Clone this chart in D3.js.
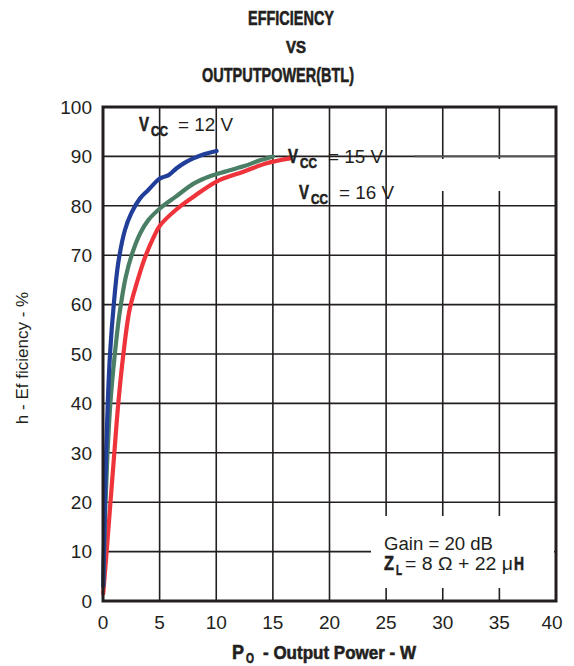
<!DOCTYPE html>
<html><head><meta charset="utf-8">
<script src="https://cdn.jsdelivr.net/npm/d3@7"></script>
<style>body{margin:0;background:#fff}svg{display:block}</style>
</head><body>
<svg id="c" width="574" height="666"></svg>
<script>
const xTicks = [0, 5, 10, 15, 20, 25, 30, 35, 40];
const yTicks = [0, 10, 20, 30, 40, 50, 60, 70, 80, 90, 100];
const vcc12 = [[0.02,3],[0.08,10],[0.17,20],[0.28,30],[0.42,40],[0.62,50],[0.95,60],[1.35,68.5],[1.94,75.1],[2.5,78.5],[3.27,81.5],[4.0,83.2],[4.94,85.4],[5.3,85.8],[5.8,86.2],[6.5,87.6],[7.2,88.7],[7.97,89.6],[8.85,90.4],[10.03,91.1]];
const vcc15 = [[0.02,3],[0.1,10],[0.22,20],[0.4,30],[0.65,40],[1.0,49],[1.45,58],[2.0,65.5],[2.6,70.5],[3.3,74.5],[4.0,77.1],[5.1,79.6],[6.4,81.8],[8.0,84.5],[9.44,86],[10.9,87.0],[12.4,88.0],[13.86,89.2],[15.0,90.0]];
const vcc16 = [[0.02,1.5],[0.32,10],[0.66,20],[1.0,30],[1.35,40],[1.8,50],[2.35,59],[3.0,64.5],[3.7,69.5],[4.44,73.5],[5.03,76],[6.5,79.3],[7.97,81.8],[10.03,84.9],[12.4,86.9],[14.45,88.6],[16.5,89.6]];
const seriesColors = ["#213f99", "#4b7f65", "#ef333a"];

const svg = d3.select("#c");
const x = d3.scaleLinear().domain([0, 40]).range([103, 556]);
const y = d3.scaleLinear().domain([0, 100]).range([601, 107]);
const cond = "'Liberation Sans Narrow','Liberation Sans',Arial,sans-serif";
const reg = "'Liberation Sans',Arial,sans-serif";
const ink = "#231f20";

// grid
const g = svg.append("g");
g.selectAll("line.v").data(xTicks).join("line")
  .attr("x1", d => x(d)).attr("x2", d => x(d)).attr("y1", y(100)).attr("y2", y(0))
  .attr("stroke", ink).attr("stroke-width", 1.6);
g.selectAll("line.h").data(yTicks).join("line")
  .attr("x1", x(0)).attr("x2", x(40)).attr("y1", d => y(d)).attr("y2", d => y(d))
  .attr("stroke", ink).attr("stroke-width", 1.6);
// white label boxes
svg.append("rect").attr("x", 405).attr("y", 159).attr("width", 149).attr("height", 32).attr("fill", "#fff");
svg.append("line").attr("x1", 415).attr("x2", 555).attr("y1", y(90)).attr("y2", y(90)).attr("stroke", "#555").attr("stroke-width", 1.6);
svg.append("rect").attr("x", 371).attr("y", 516).attr("width", 183).attr("height", 72).attr("fill", "#fff");

// curves
const line = d3.line().x(d => x(d[0])).y(d => y(d[1])).curve(d3.curveCatmullRom.alpha(0.5));
[vcc16, vcc15, vcc12].forEach((s, i) => {
  svg.append("path").attr("d", line(s)).attr("fill", "none")
    .attr("stroke", seriesColors[2 - i]).attr("stroke-width", 4.2).attr("stroke-linecap", "round").attr("stroke-linejoin", "round");
});

// border
svg.append("rect").attr("x", x(0)).attr("y", y(100)).attr("width", x(40) - x(0)).attr("height", y(0) - y(100))
  .attr("fill", "none").attr("stroke", ink).attr("stroke-width", 3);

// tick labels
svg.selectAll("text.yt").data(yTicks).join("text")
  .attr("x", 92).attr("y", d => y(d)).attr("dy", "0.36em").attr("text-anchor", "end")
  .attr("font-family", reg).attr("font-size", 19).attr("fill", ink).text(d => d);
svg.selectAll("text.xt").data(xTicks).join("text")
  .attr("x", d => x(d) - (d === 40 ? 4 : 0)).attr("y", 629).attr("text-anchor", "middle")
  .attr("font-family", reg).attr("font-size", 19).attr("fill", ink).text(d => d);

function t(txt, xx, yy, size, bold, family, len) {
  const e = svg.append("text").attr("x", xx).attr("y", yy).attr("font-size", size)
    .attr("font-family", family).attr("font-weight", bold ? "bold" : "normal").attr("fill", ink).text(txt);
  if (bold) e.attr("stroke", ink).attr("stroke-width", 0.6);
  if (len) e.attr("textLength", len).attr("lengthAdjust", "spacingAndGlyphs");
  return e;
}
// title
t("EFFICIENCY", 248, 25, 21, true, cond, 86);
t("VS", 286, 53, 16, true, cond, 20);
t("OUTPUTPOWER(BTL)", 202, 82, 21, true, cond, 152);

// series labels
function vlab(xv, bl, rest, xr, wr) {
  t("V", xv, bl, 20, true, cond, 10);
  t("CC", xv + 12, bl + 4.5, 15, true, cond, 17);
  t(rest, xr, bl, 18, false, reg, wr);
}
vlab(139, 131, "= 12 V", 178, 55);
vlab(288, 163, "= 15 V", 328, 55);
vlab(299, 199, "= 16 V", 339, 55);

// conditions
t("Gain = 20 dB", 384, 550, 18, false, reg, 109);
t("Z", 384, 570, 20, true, cond, 10);
t("L", 396, 575, 14, true, cond, 6);
t("= 8 \u03A9 + 22 \u03BC", 405, 570, 18, false, reg, 108);
t("H", 514, 570, 19, true, cond, 10);

// axis titles
t("P", 232, 659, 20, true, cond, 12);
t("O", 246, 663, 14, true, cond, 8);
t("-  Output Power  -  W", 263, 659, 19, true, cond, 153);
svg.append("text").attr("transform", "translate(28,358) rotate(-90)").attr("text-anchor", "middle")
  .attr("font-family", reg).attr("font-size", 17).attr("fill", ink).text("h - Ef ficiency - %");
</script>
</body></html>
